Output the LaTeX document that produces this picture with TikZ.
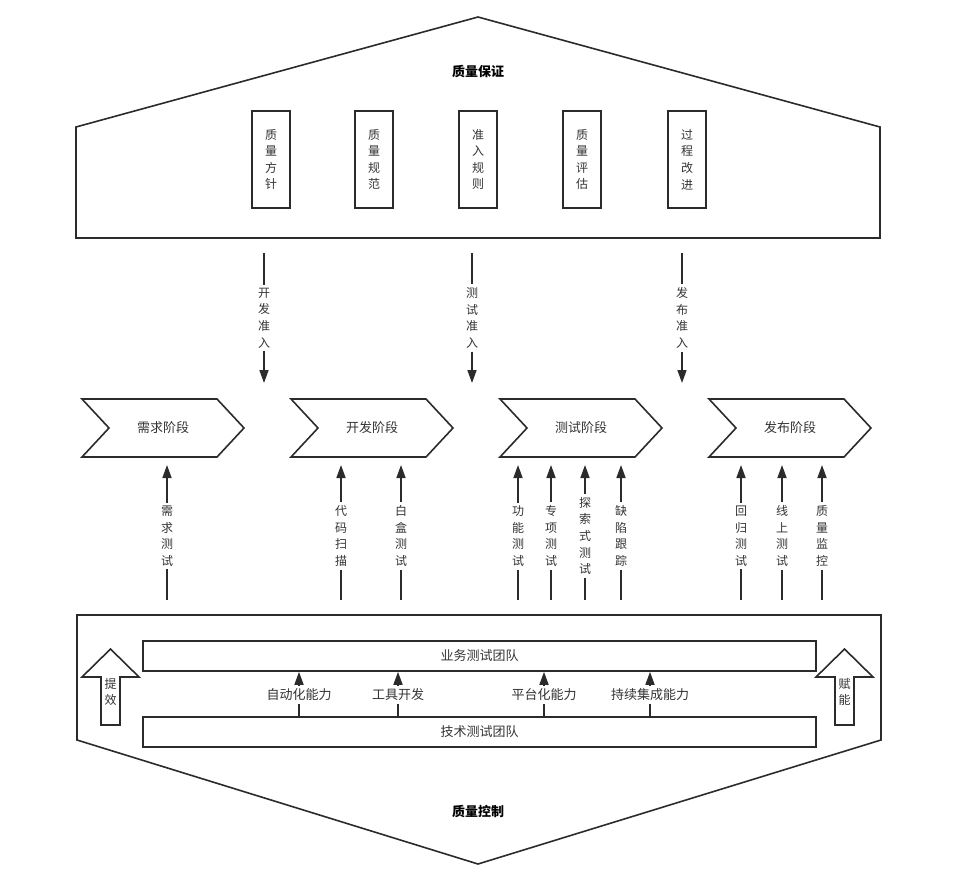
\documentclass[tikz,border=0pt]{standalone}
\usepackage{fontspec}
\setmainfont{Noto Sans CJK SC}
\usetikzlibrary{arrows.meta}
\definecolor{ink}{HTML}{2B2B2B}
\definecolor{txt}{HTML}{333333}
\tikzset{
  frame/.style={draw=ink, line width=1.6pt, line join=miter},
  wire/.style={draw=ink, line width=1.6pt},
  arr/.style={wire, -{Triangle[length=13pt,width=9pt]}},
  vtext/.style={align=center, inner sep=3pt, text=txt, font=\fontsize{12}{16.6}\selectfont},
  htext/.style={inner sep=3pt, text=txt, font=\fontsize{13}{15}\selectfont},
  title/.style={text=black, font=\fontsize{13}{15}\selectfont\bfseries},
}
\begin{document}
\begin{tikzpicture}[x=1pt,y=-1pt]
\useasboundingbox (0,0) rectangle (957,879);

% quality assurance (roof)
\draw[frame] (76,238) -- (76,127) -- (478,17) -- (880,127) -- (880,238) -- cycle;
\node[title] (qa) at (478,71) {质量保证};
\foreach \x/\t [count=\i] in {271/{质\\量\\方\\针}, 374/{质\\量\\规\\范}, 478/{准\\入\\规\\则}, 582/{质\\量\\评\\估}, 687/{过\\程\\改\\进}} {
  \node[frame, vtext, minimum width=38, minimum height=97] (p\i) at (\x,159.5) {\t};
}

% entry gates
\coordinate (gatetop) at (0,253);
\coordinate (gatefoot) at (0,383);
\foreach \x/\t [count=\i] in {264/{开\\发\\准\\入}, 472/{测\\试\\准\\入}, 682/{发\\布\\准\\入}} {
  \node[vtext] (g\i) at (\x,318) {\t};
  \draw[wire] (g\i |- gatetop) -- (g\i);
  \draw[arr] (g\i) -- (g\i |- gatefoot);
}

% stages
\foreach \l/\t [count=\i] in {82/需求阶段, 291/开发阶段, 500/测试阶段, 709/发布阶段} {
  \draw[frame] (\l,399) -- ++(135,0) -- ++(27,29) -- ++(-27,29) -- ++(-135,0) -- ++(27,-29) -- cycle;
  \node[htext] (s\i) at (\l+81,428) {\t};
}

% test activities
\coordinate (ground) at (0,600);
\coordinate (stagefoot) at (0,465);
\foreach \x/\t [count=\i] in {167/{需\\求\\测\\试}, 341/{代\\码\\扫\\描}, 401/{白\\盒\\测\\试}, 518/{功\\能\\测\\试}, 551/{专\\项\\测\\试}, 585/{探\\索\\式\\测\\试}, 621/{缺\\陷\\跟\\踪}, 741/{回\\归\\测\\试}, 782/{线\\上\\测\\试}, 822/{质\\量\\监\\控}} {
  \node[vtext] (t\i) at (\x,536) {\t};
  \draw[wire] (t\i |- ground) -- (t\i);
  \draw[arr] (t\i) -- (t\i |- stagefoot);
}

% quality control (base)
\draw[frame] (77,615) -- (881,615) -- (881,740) -- (478,864) -- (77,740) -- cycle;
\node[title] (qc) at (478,811) {质量控制};
\node[frame, htext, minimum width=673, minimum height=30] (biz) at (479.5,656) {业务测试团队};
\node[frame, htext, minimum width=673, minimum height=30] (tech) at (479.5,732) {技术测试团队};
\foreach \x/\t [count=\i] in {299/自动化能力, 398/工具开发, 544/平台化能力, 650/持续集成能力} {
  \node[htext] (c\i) at (\x,695) {\t};
  \draw[wire] (c\i |- tech.north) -- (c\i);
  \draw[arr] (c\i) -- (c\i |- biz.south);
}

% block arrows
\draw[frame] (101,725) -- (101,677) -- (82,677) -- (110.5,649) -- (139,677) -- (120,677) -- (120,725) -- cycle;
\node[vtext] (boost) at (110.5,692) {提\\效};
\draw[frame] (835,725) -- (835,677) -- (816,677) -- (844.5,649) -- (873,677) -- (854,677) -- (854,725) -- cycle;
\node[vtext] (enable) at (844.5,692) {赋\\能};
\end{tikzpicture}
\end{document}
